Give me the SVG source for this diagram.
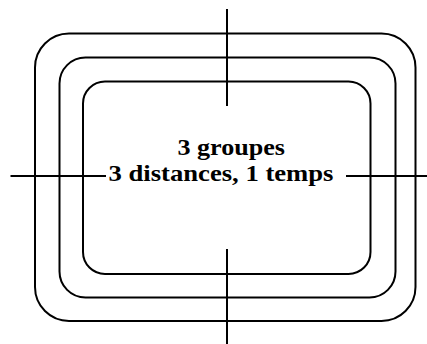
<svg xmlns="http://www.w3.org/2000/svg" width="427" height="344" viewBox="0 0 427 344">
<style>
.r{fill:none;stroke:#000;stroke-width:2}
.c{stroke:#000;stroke-width:2;fill:none}
.t{font-family:"Liberation Serif","Times New Roman",serif;font-weight:bold;font-size:24px;fill:#000}
</style>
<rect width="427" height="344" fill="#fff"/>
<g id="outer"><rect class="r" x="35" y="33.5" width="380.5" height="287.5" rx="34" ry="34"/></g>
<g id="middle"><rect class="r" x="59.5" y="57.5" width="336" height="240" rx="26" ry="26"/></g>
<g id="inner"><rect class="r" x="83" y="81.5" width="287.5" height="192.5" rx="22" ry="22"/></g>
<g id="connectors">
<line class="c" x1="227" y1="9" x2="227" y2="106"/>
<line class="c" x1="227" y1="249" x2="227" y2="344"/>
<line class="c" x1="10.5" y1="176" x2="106" y2="176"/>
<line class="c" x1="346" y1="176" x2="427" y2="176"/>
</g>
<g id="label">
<text class="t" x="177.5" y="154.5" textLength="107.5" lengthAdjust="spacingAndGlyphs">3 groupes</text>
<text class="t" x="108.5" y="180.5" textLength="225" lengthAdjust="spacingAndGlyphs">3 distances, 1 temps</text>
</g>
</svg>
